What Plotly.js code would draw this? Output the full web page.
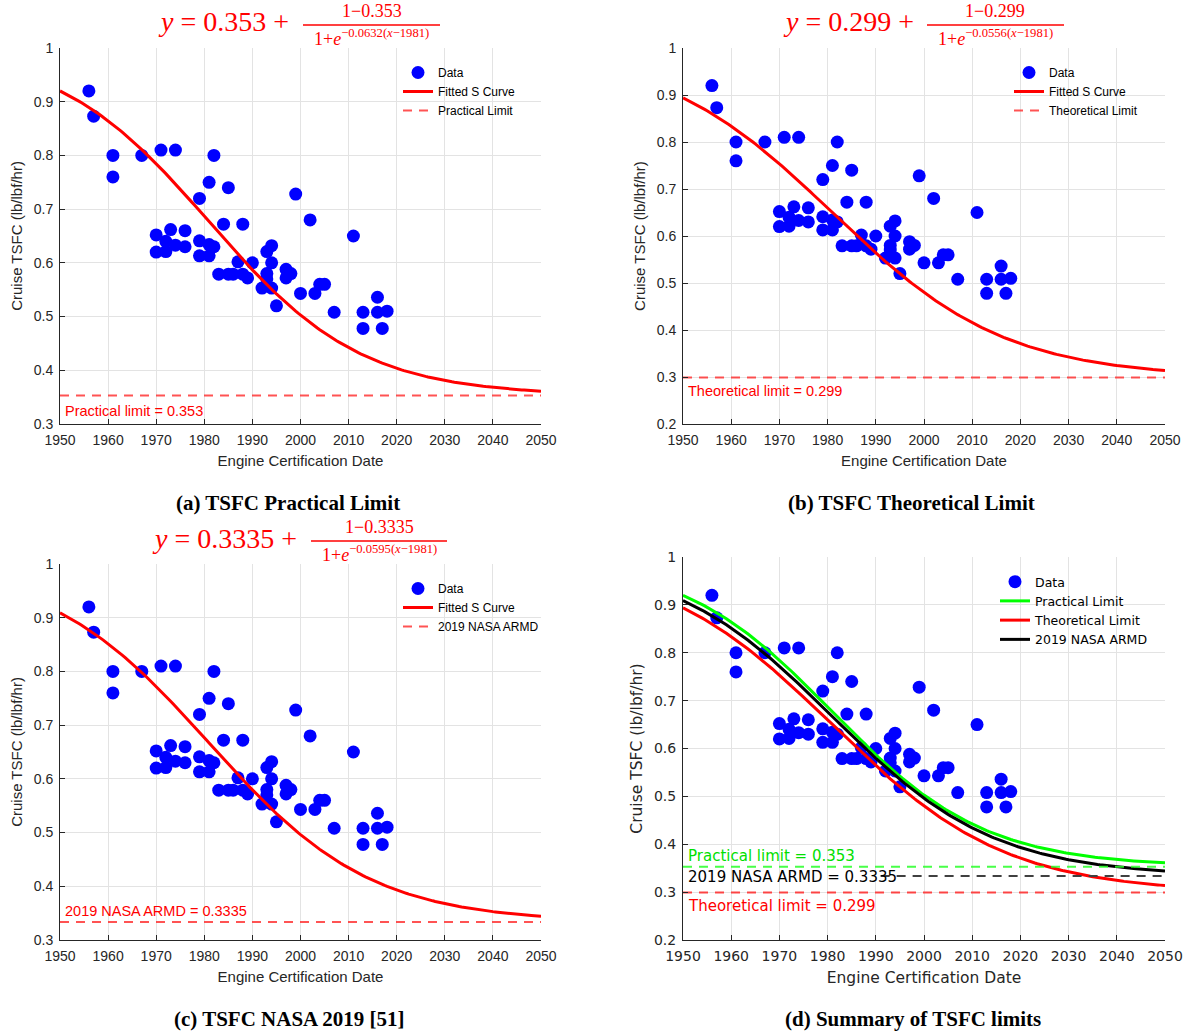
<!DOCTYPE html>
<html>
<head>
<meta charset="utf-8">
<script src="https://cdn.plot.ly/plotly-3.0.1.min.js"></script>
<style>html,body{margin:0;padding:0;background:#fff;}#chart{width:1188px;height:1033px;}</style>
</head>
<body>
<div id="chart"></div>
<script>
// ---- Data ----
const certYear = [1956,1957,1961,1961,1967,1970,1970,1971,1972,1972,1973,1974,1974,1976,1976,1979,1979,1979,1981,1981,1981,1982,1982,1983,1984,1985,1985,1986,1987,1988,1988,1989,1990,1992,1993,1993,1993,1994,1994,1994,1995,1997,1997,1998,1999,2000,2002,2003,2004,2005,2007,2011,2013,2013,2016,2016,2017,2018];
const cruiseTsfc = [0.92,0.873,0.80,0.76,0.80,0.652,0.62,0.81,0.64,0.621,0.662,0.81,0.633,0.66,0.63,0.72,0.641,0.613,0.75,0.634,0.613,0.80,0.63,0.579,0.672,0.74,0.579,0.579,0.602,0.672,0.579,0.572,0.60,0.553,0.621,0.58,0.57,0.632,0.60,0.553,0.52,0.588,0.572,0.58,0.728,0.543,0.68,0.543,0.56,0.56,0.508,0.65,0.508,0.478,0.536,0.508,0.478,0.51];

// Fitted S-curve parameters shown in the panel titles
const limitNames = ['Practical', 'Theoretical', '2019 NASA ARMD'];
const limitValues = [0.353, 0.299, 0.3335];
const rateValues = [0.0632, 0.0556, 0.0595];
const midYear = 1981;
const yearTicks = [1950,1960,1970,1980,1990,2000,2010,2020,2030,2040,2050];
const tsfcTicks = [0.2,0.3,0.4,0.5,0.6,0.7,0.8,0.9,1];

// ---- helpers ----
const W = 1188, H = 1033;
const px = x => x / W;
const py = y => 1 - y / H;

function sCurve(L, k) {
  const xs = [], ys = [];
  for (let x = yearTicks[0]; x <= yearTicks[yearTicks.length - 1]; x += 0.5) {
    xs.push(x);
    ys.push(L + (1 - L) / (1 + Math.exp(k * (x - midYear))));
  }
  return {xs, ys};
}

const sans = 'Liberation Sans, Arial, sans-serif';
const dejavu = 'DejaVu Sans, Verdana, sans-serif';
const serif = 'Liberation Serif, Times New Roman, serif';
const ink = '#262626';

const traces = [];
const panelLimitIdx = [0, 1, 2];
const panelLegendLimitName = ['Practical Limit', 'Theoretical Limit', '2019 NASA ARMD'];
const axisSuffix = ['', '2', '3', '4'];
const legendIds = ['legend', 'legend2', 'legend3', 'legend4'];

// panels a, b, c
for (let p = 0; p < 3; p++) {
  const xa = 'x' + axisSuffix[p], ya = 'y' + axisSuffix[p];
  const L = limitValues[panelLimitIdx[p]], k = rateValues[panelLimitIdx[p]];
  traces.push({
    type: 'scatter', mode: 'markers', x: certYear, y: cruiseTsfc, xaxis: xa, yaxis: ya,
    name: 'Data', legend: legendIds[p],
    marker: {color: '#0000ff', size: 13}
  });
  const c = sCurve(L, k);
  traces.push({
    type: 'scatter', mode: 'lines', x: c.xs, y: c.ys, xaxis: xa, yaxis: ya,
    name: 'Fitted S Curve', legend: legendIds[p],
    line: {color: '#ff0000', width: 3}
  });
  traces.push({
    type: 'scatter', mode: 'lines', x: [yearTicks[0], yearTicks[yearTicks.length - 1]], y: [L, L],
    xaxis: xa, yaxis: ya, name: panelLegendLimitName[p], legend: legendIds[p],
    line: {color: 'rgba(255,40,40,0.8)', width: 2, dash: '9px,7px'}
  });
}

// panel d
traces.push({
  type: 'scatter', mode: 'markers', x: certYear, y: cruiseTsfc, xaxis: 'x4', yaxis: 'y4',
  name: 'Data', legend: 'legend4', marker: {color: '#0000ff', size: 13}
});
const dColors = ['#00ff00', '#ff0000', '#000000'];
const dNames = ['Practical Limit', 'Theoretical Limit', '2019 NASA ARMD'];
const dDash = ['rgba(40,255,40,0.85)', 'rgba(255,40,40,0.85)', '#404040'];
for (let i = 0; i < 3; i++) {
  const c = sCurve(limitValues[i], rateValues[i]);
  traces.push({
    type: 'scatter', mode: 'lines', x: c.xs, y: c.ys, xaxis: 'x4', yaxis: 'y4',
    name: dNames[i], legend: 'legend4', line: {color: dColors[i], width: 3}
  });
}
for (let i = 0; i < 3; i++) {
  const x0 = i === 2 ? 1991 : yearTicks[0];
  traces.push({
    type: 'scatter', mode: 'lines', x: [x0, yearTicks[yearTicks.length - 1]], y: [limitValues[i], limitValues[i]],
    xaxis: 'x4', yaxis: 'y4', showlegend: false, hoverinfo: 'skip',
    line: {color: dDash[i], width: 2, dash: '9px,7px'}
  });
}

// ---- axes ----
function xAxis(d, font, standoff) {
  return {
    domain: d, range: [1950, 2050], tickvals: yearTicks, ticktext: yearTicks.map(String),
    showline: true, linecolor: ink, linewidth: 1, ticks: 'inside', ticklen: 5, tickcolor: ink,
    showgrid: true, gridcolor: '#e3e3e3', zeroline: false, ticklabelstandoff: 3,
    tickfont: {family: font, size: 14, color: ink},
    title: {text: 'Engine Certification Date', font: {family: font, size: 15, color: ink}, standoff: standoff}
  };
}
function yAxis(d, lo, font) {
  const tv = tsfcTicks.filter(v => v >= lo - 1e-9);
  return {
    domain: d, range: [lo, 1], tickvals: tv, ticktext: tv.map(v => String(v)),
    showline: true, linecolor: ink, linewidth: 1, ticks: 'inside', ticklen: 5, tickcolor: ink,
    showgrid: true, gridcolor: '#e3e3e3', zeroline: false, ticklabelstandoff: 3,
    tickfont: {family: font, size: 14, color: ink},
    title: {text: 'Cruise TSFC (lb/lbf/hr)', font: {family: font, size: 15, color: ink}, standoff: 7}
  };
}

const colL = [px(60), px(541)], colR = [px(683), px(1165)];
const rowTop = [py(424), py(48)], rowBot = [py(940), py(564)], rowBotD = [py(940), py(557)];

// ---- annotations ----
const ann = [];
const shapes = [];
function formula(mainRight, yMid, barL, barR, L, k) {
  const cx = (barL + barR) / 2;
  ann.push({xref: 'paper', yref: 'paper', x: px(mainRight), y: py(yMid), xanchor: 'right', yanchor: 'middle',
    showarrow: false, text: '<i>y</i> = ' + L + ' +', font: {family: serif, size: 28, color: '#ff0000'}});
  ann.push({xref: 'paper', yref: 'paper', x: px(cx), y: py(yMid + 1), xanchor: 'center', yanchor: 'bottom',
    showarrow: false, text: '1\u2212' + L, font: {family: serif, size: 18, color: '#ff0000'}});
  ann.push({xref: 'paper', yref: 'paper', x: px(cx), y: py(yMid + 29), xanchor: 'center', yanchor: 'bottom',
    showarrow: false, text: '1+<i>e</i><sup>\u2212' + k + '(<i>x</i>\u2212' + midYear + ')</sup>',
    font: {family: serif, size: 18, color: '#ff0000'}});
  shapes.push({type: 'line', xref: 'paper', yref: 'paper', x0: px(barL), x1: px(barR), y0: py(yMid + 3), y1: py(yMid + 3),
    line: {color: '#ff0000', width: 1.6}});
}
formula(291, 22, 303, 440, limitValues[0], rateValues[0]);
formula(916, 22, 927, 1064, limitValues[1], rateValues[1]);
formula(299, 538, 311, 447, limitValues[2], rateValues[2]);

function limitLabel(xr, yr, x, y, text, color, font, size) {
  ann.push({xref: xr, yref: yr, x: x, y: y, xanchor: 'left', yanchor: 'middle', showarrow: false,
    text: text, font: {family: font, size: size, color: color}});
}
limitLabel('x', 'y', 1950.6, limitValues[0] - 0.029, 'Practical limit = ' + limitValues[0], '#ff0000', sans, 14.5);
limitLabel('x2', 'y2', 1950.6, limitValues[1] - 0.029, 'Theoretical limit = ' + limitValues[1], '#ff0000', sans, 14.5);
limitLabel('x3', 'y3', 1950.6, limitValues[2] + 0.02, '2019 NASA ARMD = ' + limitValues[2], '#ff0000', sans, 14.5);
limitLabel('x4', 'y4', 1950.6, limitValues[0] + 0.023, 'Practical limit = ' + limitValues[0], '#00e000', dejavu, 15);
limitLabel('x4', 'y4', 1950.6, limitValues[2] - 0.002, '2019 NASA ARMD = ' + limitValues[2], '#000000', dejavu, 15);
limitLabel('x4', 'y4', 1950.6, limitValues[1] - 0.029, 'Theoretical limit = ' + limitValues[1], '#ff0000', dejavu, 15);

const captions = [['(a) TSFC Practical Limit', 288, 503], ['(b) TSFC Theoretical Limit', 912, 503],
                  ['(c) TSFC NASA 2019 [51]', 289, 1019], ['(d) Summary of TSFC limits', 913, 1019]];
captions.forEach(c => ann.push({xref: 'paper', yref: 'paper', x: px(c[1]), y: py(c[2]), xanchor: 'center', yanchor: 'middle',
  showarrow: false, text: '<b>' + c[0] + '</b>', font: {family: serif, size: 21, color: '#000'}}));

function legendAt(xLeft, yTop, font, size) {
  return {x: px(xLeft), y: py(yTop), xanchor: 'left', yanchor: 'top', bgcolor: 'rgba(0,0,0,0)',
    font: {family: font, size: size, color: '#000'}, itemwidth: 30, tracegroupgap: 0};
}

const layout = {
  width: W, height: H, margin: {l: 0, r: 0, t: 0, b: 0},
  paper_bgcolor: '#fff', plot_bgcolor: '#fff',
  xaxis: Object.assign(xAxis(colL, sans, 8), {anchor: 'y'}),
  yaxis: Object.assign(yAxis(rowTop, 0.3, sans), {anchor: 'x'}),
  xaxis2: Object.assign(xAxis(colR, sans, 8), {anchor: 'y2'}),
  yaxis2: Object.assign(yAxis(rowTop, 0.2, sans), {anchor: 'x2'}),
  xaxis3: Object.assign(xAxis(colL, sans, 8), {anchor: 'y3'}),
  yaxis3: Object.assign(yAxis(rowBot, 0.3, sans), {anchor: 'x3'}),
  xaxis4: Object.assign(xAxis(colR, dejavu, 9), {anchor: 'y4'}),
  yaxis4: Object.assign(yAxis(rowBotD, 0.2, dejavu), {anchor: 'x4'}),
  legend: legendAt(398, 58, sans, 12),
  legend2: legendAt(1009, 58, sans, 12),
  legend3: legendAt(398, 574, sans, 12),
  legend4: legendAt(995, 567, dejavu, 12.5),
  annotations: ann,
  shapes: shapes,
  showlegend: true
};
layout.xaxis4.title.font.size = 15.5;
layout.yaxis4.title.font.size = 15.5;

Plotly.newPlot('chart', traces, layout, {displayModeBar: false, staticPlot: true});
</script>
</body>
</html>
